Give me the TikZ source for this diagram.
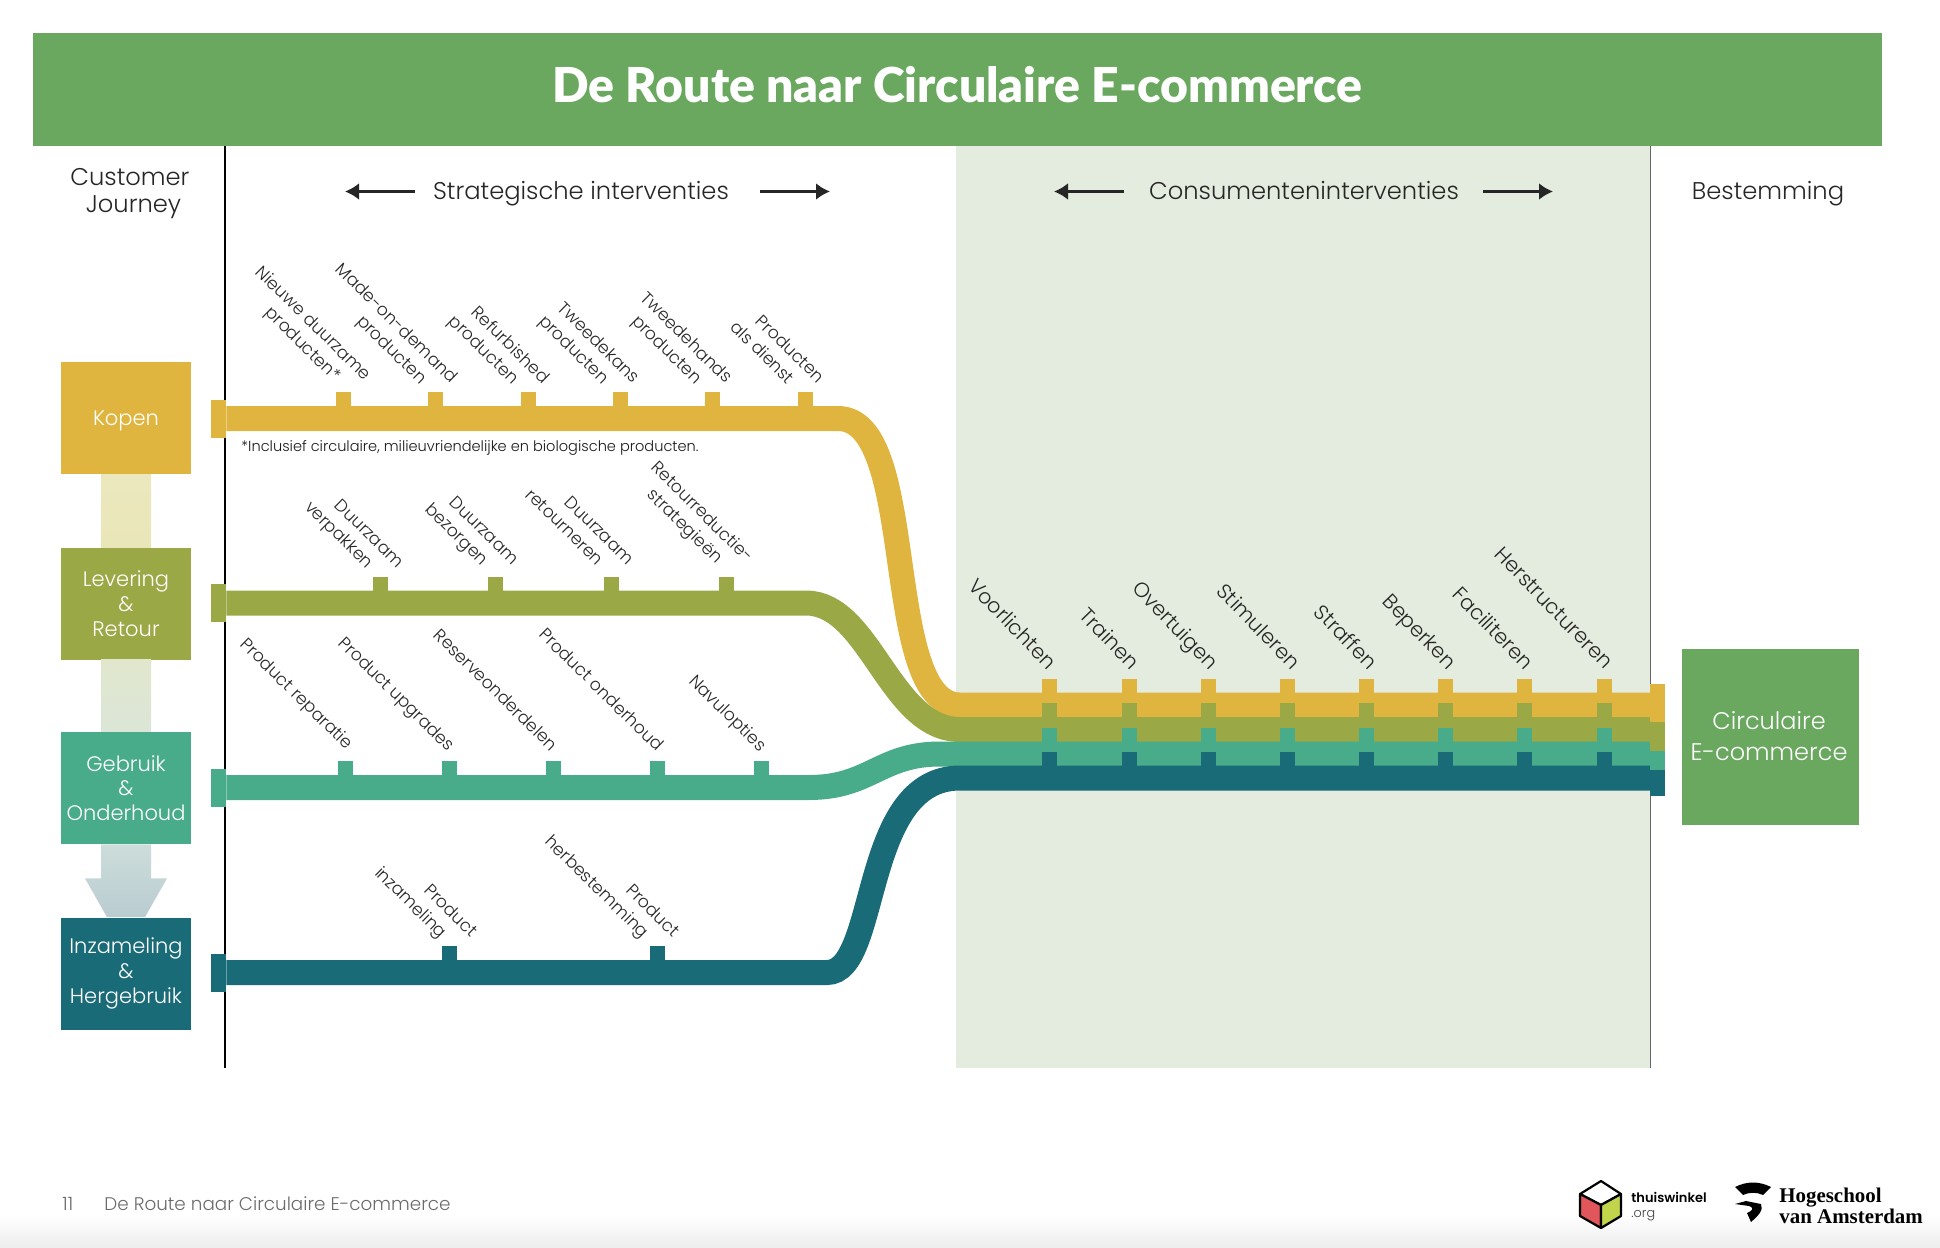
\documentclass[tikz,border=0pt]{standalone}
\usepackage{fontspec}
\setmainfont{Poppins}[UprightFont=* Light,BoldFont=* SemiBold]
\newfontfamily\titlefont{Lato}[BoldFont=* Black]
\newfontfamily\hvafont{Liberation Serif}
\usepackage{xcolor}
\usepackage{tikz}
\usetikzlibrary{arrows.meta,calc}
\definecolor{kopenkleur}{HTML}{E0B53F}
\definecolor{leveringkleur}{HTML}{9AA846}
\definecolor{gebruikkleur}{HTML}{48AB89}
\definecolor{inzamelkleur}{HTML}{1A6B78}
\definecolor{routegroen}{HTML}{6AA85F}
\definecolor{vlakgroen}{HTML}{E3ECDF}
\definecolor{voettekst}{HTML}{6B6B6B}
\definecolor{kubusrood}{HTML}{E0565B}
\definecolor{kubusgroen}{HTML}{C2D44B}
\newcommand{\regelterug}{\hspace*{10.5pt}}
\begin{document}
\begin{tikzpicture}[
    x=0.5pt, y=-0.5pt,
    fase/.style={minimum width=65pt, minimum height=56pt, inner sep=0pt, align=center, text=white, font=\fontsize{10.5}{12.4}\selectfont},
    band/.style={line width=12.5pt},
    tab/.style={minimum width=7.5pt, minimum height=19pt, inner sep=0pt},
    tick/.style={minimum width=7.5pt, minimum height=7pt, inner sep=0pt, anchor=south},
    lbl/.style={rotate=-44.5, anchor=north east, align=right, inner sep=0pt, text=black!85, font=\fontsize{8.6}{11}\selectfont},
    lblgroot/.style={rotate=-46, anchor=north east, align=right, inner sep=0pt, text=black!85, font=\fontsize{10.3}{11}\selectfont},
    kop/.style={text=black!85, align=center, font=\fontsize{12.1}{13.5}\selectfont},
    pijl/.style={-{Latex[length=7pt,width=8.5pt]}, line width=1.9pt, draw=black!85}
]
    \useasboundingbox (0,0) rectangle (1940,1248);
    \shade[top color=white, bottom color=black!7] (0,1215) rectangle (1940,1248);

    \fill[vlakgroen] (956,146) rectangle (1650,1068);
    \draw[black!60, line width=0.4pt] (1650,146) -- (1650,1068);
    \draw[black, line width=1pt] (225,146) -- (225,1068);

    \node[fill=routegroen, minimum width=924.5pt, minimum height=56.5pt, inner sep=0pt] (titel) at (957.5,89.5) {};
    \node[text=white, font=\titlefont\bfseries\fontsize{24.05}{28}\selectfont] (titeltekst) at (957.5,85) {De Route naar Circulaire E-commerce};

    \node[kop] (journey) at (130,194) {Customer\\\hspace*{3.5pt}Journey};
    \node[kop] (strategisch) at (581,194) {Strategische interventies};
    \node[kop] (consument) at (1304,191) {Consumenteninterventies};
    \node[kop] (bestemming) at (1768,194) {Bestemming};
    \coordinate (stratLa) at (415,191.5);
    \coordinate (stratLb) at (345,191.5);
    \coordinate (stratRa) at (760,191.5);
    \coordinate (stratRb) at (830,191.5);
    \coordinate (consLa) at (1124,191.5);
    \coordinate (consLb) at (1054,191.5);
    \coordinate (consRa) at (1483,191.5);
    \coordinate (consRb) at (1553,191.5);
    \draw[pijl] (stratLa) -- (stratLb);
    \draw[pijl] (stratRa) -- (stratRb);
    \draw[pijl] (consLa) -- (consLb);
    \draw[pijl] (consRa) -- (consRb);

    \node[fase, fill=kopenkleur] (kopen) at (126,418) {\raisebox{-1.3pt}[\height][\depth]{Kopen}};
    \node[fase, fill=leveringkleur] (levering) at (126,603.5) {Levering\\\&\\Retour};
    \node[fase, fill=gebruikkleur] (gebruik) at (126,788) {Gebruik\\\&\\Onderhoud};
    \node[fase, fill=inzamelkleur] (inzameling) at (126,973.5) {Inzameling\\\&\\Hergebruik};
    \node[fill=routegroen, minimum width=88.5pt, minimum height=88pt, inner sep=0pt] (circulair) at (1770.5,737) {};
    \node[text=white, align=center, font=\fontsize{12}{15.5}\selectfont] (circulairtekst) at (1769,736) {Circulaire\\E-commerce};

    \shade[top color={rgb,255:red,236;green,232;blue,190}, bottom color={rgb,255:red,233;green,230;blue,184}] ($(kopen.south)+(-25,0)$) rectangle ($(levering.north)+(25,0)$);
    \shade[top color={rgb,255:red,224;green,231;blue,205}, bottom color={rgb,255:red,220;green,230;blue,216}] ($(levering.south)+(-25,0)$) rectangle ($(gebruik.north)+(25,0)$);
    \shade[top color={rgb,255:red,205;green,221;blue,219}, bottom color={rgb,255:red,185;green,204;blue,208}] ($(gebruik.south)+(-25,0)$) -- ($(gebruik.south)+(25,0)$) -- ($(gebruik.south)+(25,34)$) -- ($(gebruik.south)+(41,34)$) -- ($(inzameling.north)+(19,0)$) -- ($(inzameling.north)+(-19,0)$) -- ($(gebruik.south)+(-41,34)$) -- ($(gebruik.south)+(-25,34)$) -- cycle;

    \node[tab, fill=kopenkleur] (kopenIn) at (218.5,418.5) {};
    \node[tab, fill=leveringkleur] (leveringIn) at (218.5,603) {};
    \node[tab, fill=gebruikkleur] (gebruikIn) at (218.5,787.5) {};
    \node[tab, fill=inzamelkleur] (inzamelingIn) at (218.5,972.5) {};

    \coordinate (kopenBend) at (838,418.5);
    \coordinate (kopenMerge) at (960,705);
    \coordinate (leveringBend) at (806,603);
    \coordinate (leveringMerge) at (960,729.5);
    \coordinate (gebruikBend) at (809,787.5);
    \coordinate (gebruikMerge) at (940,754);
    \coordinate (inzamelingBend) at (827,972.5);
    \coordinate (inzamelingMerge) at (960,778);
    \coordinate (uitgang) at (1650,705);

    \draw[band, draw=kopenkleur] (kopenIn.east) -- (kopenBend) .. controls (920,418.5) and (880,705) .. (kopenMerge) -- (kopenMerge -| uitgang);
    \draw[band, draw=leveringkleur] (leveringIn.east) -- (leveringBend) .. controls (870,603) and (890,729.5) .. (leveringMerge) -- (leveringMerge -| uitgang);
    \draw[band, draw=gebruikkleur] (gebruikIn.east) -- (gebruikBend) .. controls (870,787.5) and (880,754) .. (gebruikMerge) -- (gebruikMerge -| uitgang);
    \draw[band, draw=inzamelkleur] (inzamelingIn.east) -- (inzamelingBend) .. controls (880,972.5) and (860,778) .. (inzamelingMerge) -- (inzamelingMerge -| uitgang);

    \node[tab, fill=inzamelkleur] (inzamelingOut) at (1657.5,777) {};
    \node[tab, fill=gebruikkleur] (gebruikOut) at (1657.5,751) {};
    \node[tab, fill=leveringkleur] (leveringOut) at (1657.5,732) {};
    \node[tab, fill=kopenkleur] (kopenOut) at (1657.5,703) {};

    \node[tick, fill=kopenkleur] (tickNieuw) at (343.5,406) {};
    \node[tick, fill=kopenkleur] (tickMade) at (435.5,406) {};
    \node[tick, fill=kopenkleur] (tickRefurb) at (528,406) {};
    \node[tick, fill=kopenkleur] (tickTweedekans) at (620.5,406) {};
    \node[tick, fill=kopenkleur] (tickTweedehands) at (712.5,406) {};
    \node[tick, fill=kopenkleur] (tickDienst) at (805.5,406) {};
    \node[tick, fill=leveringkleur] (tickVerpakken) at (380,591) {};
    \node[tick, fill=leveringkleur] (tickBezorgen) at (495.5,591) {};
    \node[tick, fill=leveringkleur] (tickRetourneren) at (611,591) {};
    \node[tick, fill=leveringkleur] (tickRetourreductie) at (726.5,591) {};
    \node[tick, fill=gebruikkleur] (tickReparatie) at (345.5,775) {};
    \node[tick, fill=gebruikkleur] (tickUpgrades) at (449.5,775) {};
    \node[tick, fill=gebruikkleur] (tickReserve) at (553.5,775) {};
    \node[tick, fill=gebruikkleur] (tickOnderhoud) at (657.5,775) {};
    \node[tick, fill=gebruikkleur] (tickNavul) at (761.5,775) {};
    \node[tick, fill=inzamelkleur] (tickInzameling) at (449.5,960) {};
    \node[tick, fill=inzamelkleur] (tickBestemming) at (657.5,960) {};

    \node[tick, fill=kopenkleur] (a1) at (1049.5,693) {}; \node[tick, fill=leveringkleur] (a2) at (1049.5,717) {}; \node[tick, fill=gebruikkleur] (a3) at (1049.5,742) {}; \node[tick, fill=inzamelkleur] (a4) at (1049.5,766) {};
    \node[tick, fill=kopenkleur] (b1) at (1129,693) {}; \node[tick, fill=leveringkleur] (b2) at (1129,717) {}; \node[tick, fill=gebruikkleur] (b3) at (1129,742) {}; \node[tick, fill=inzamelkleur] (b4) at (1129,766) {};
    \node[tick, fill=kopenkleur] (c1) at (1208,693) {}; \node[tick, fill=leveringkleur] (c2) at (1208,717) {}; \node[tick, fill=gebruikkleur] (c3) at (1208,742) {}; \node[tick, fill=inzamelkleur] (c4) at (1208,766) {};
    \node[tick, fill=kopenkleur] (d1) at (1287.5,693) {}; \node[tick, fill=leveringkleur] (d2) at (1287.5,717) {}; \node[tick, fill=gebruikkleur] (d3) at (1287.5,742) {}; \node[tick, fill=inzamelkleur] (d4) at (1287.5,766) {};
    \node[tick, fill=kopenkleur] (e1) at (1366.5,693) {}; \node[tick, fill=leveringkleur] (e2) at (1366.5,717) {}; \node[tick, fill=gebruikkleur] (e3) at (1366.5,742) {}; \node[tick, fill=inzamelkleur] (e4) at (1366.5,766) {};
    \node[tick, fill=kopenkleur] (f1) at (1445.5,693) {}; \node[tick, fill=leveringkleur] (f2) at (1445.5,717) {}; \node[tick, fill=gebruikkleur] (f3) at (1445.5,742) {}; \node[tick, fill=inzamelkleur] (f4) at (1445.5,766) {};
    \node[tick, fill=kopenkleur] (g1) at (1524.5,693) {}; \node[tick, fill=leveringkleur] (g2) at (1524.5,717) {}; \node[tick, fill=gebruikkleur] (g3) at (1524.5,742) {}; \node[tick, fill=inzamelkleur] (g4) at (1524.5,766) {};
    \node[tick, fill=kopenkleur] (h1) at (1604.5,693) {}; \node[tick, fill=leveringkleur] (h2) at (1604.5,717) {}; \node[tick, fill=gebruikkleur] (h3) at (1604.5,742) {}; \node[tick, fill=inzamelkleur] (h4) at (1604.5,766) {};

    \node[lbl] (nieuw) at (374,372) {Nieuwe duurzame\\producten*\regelterug};
    \node[lbl] (made) at (460,375) {Made-on-demand\\producten\regelterug};
    \node[lbl] (refurb) at (552,375) {Refurbished\\producten\regelterug};
    \node[lbl] (tweedekans) at (642,375) {Tweedekans\\producten\regelterug};
    \node[lbl] (tweedehands) at (735,375) {Tweedehands\\producten\regelterug};
    \node[lbl] (dienst) at (827,375) {Producten\\als dienst\regelterug};
    \node[lbl] (verpakken) at (406,560) {Duurzaam\\verpakken\regelterug};
    \node[lbl] (bezorgen) at (521,557) {Duurzaam\\bezorgen\regelterug};
    \node[lbl] (retourneren) at (636,557) {Duurzaam\\retourneren\regelterug};
    \node[lbl] (retourreductie) at (756,554) {Retourreductie-\\strategieën\regelterug};
    \node[lbl] (reparatie) at (356,741) {Product reparatie};
    \node[lbl] (upgrades) at (457,743) {Product upgrades};
    \node[lbl] (reserve) at (560,743) {Reserveonderdelen};
    \node[lbl] (onderhoud) at (666,743) {Product onderhoud};
    \node[lbl] (navul) at (769,743) {Navulopties};
    \node[lbl] (inzamelen) at (480,929) {Product\\inzameling\regelterug};
    \node[lbl] (herbestemming) at (682,929) {Product\\herbestemming\regelterug};
    \node[lblgroot] (voorlichten) at (1059.5,660) {Voorlichten};
    \node[lblgroot] (trainen) at (1142.5,660) {Trainen};
    \node[lblgroot] (overtuigen) at (1221,660) {Overtuigen};
    \node[lblgroot] (stimuleren) at (1303,660) {Stimuleren};
    \node[lblgroot] (straffen) at (1380,660) {Straffen};
    \node[lblgroot] (beperken) at (1459,660) {Beperken};
    \node[lblgroot] (faciliteren) at (1536,660) {Faciliteren};
    \node[lblgroot] (herstructureren) at (1615,660) {Herstructureren};

    \node[text=black!90, anchor=west, inner sep=0pt, font=\fontsize{7.28}{9}\selectfont] (voetnoot) at (241,448) {*Inclusief circulaire, milieuvriendelijke en biologische producten.};

    \node[text=voettekst, anchor=west, inner sep=0pt, font=\fontsize{9.17}{11}\selectfont] (paginanummer) at (62,1204) {11};
    \node[text=voettekst, anchor=west, inner sep=0pt, font=\fontsize{9.17}{11}\selectfont] (voetregel) at (104,1204) {De Route naar Circulaire E-commerce};

    \filldraw[fill=white, draw=black, line width=1.1pt, line join=round] (1601,1181) -- (1621,1194) -- (1601,1205) -- (1580,1194) -- cycle;
    \filldraw[fill=kubusrood, draw=black, line width=1.1pt, line join=round] (1580,1194) -- (1601,1205) -- (1601,1228) -- (1580,1216) -- cycle;
    \filldraw[fill=kubusgroen, draw=black, line width=1.1pt, line join=round] (1621,1194) -- (1601,1205) -- (1601,1228) -- (1621,1216) -- cycle;
    \node[anchor=base west, inner sep=0pt, font=\bfseries\fontsize{6.5}{8}\selectfont] (thuiswinkel) at (1631,1202) {thuiswinkel};
    \node[anchor=base west, inner sep=0pt, text=black!75, font=\fontsize{6.4}{8}\selectfont] (thuisorg) at (1631,1217) {.org};

    \fill[black] (1735,1187) .. controls (1747,1181) and (1759,1181) .. (1771,1187) -- (1763,1195) .. controls (1757,1192) and (1749,1192) .. (1743,1195) -- cycle;
    \fill[black] (1746,1201) -- (1761,1204) .. controls (1764,1210) and (1758,1216) .. (1751,1222) -- (1747,1213) .. controls (1752,1211) and (1755,1208) .. (1749,1206) -- (1735,1204) -- cycle;
    \node[anchor=base west, inner sep=0pt, font=\hvafont\bfseries\fontsize{10.45}{13}\selectfont] (hogeschool) at (1779,1202) {Hogeschool};
    \node[anchor=base west, inner sep=0pt, font=\hvafont\bfseries\fontsize{10.45}{13}\selectfont] (amsterdam) at (1779,1223) {van Amsterdam};
\end{tikzpicture}
\end{document}
